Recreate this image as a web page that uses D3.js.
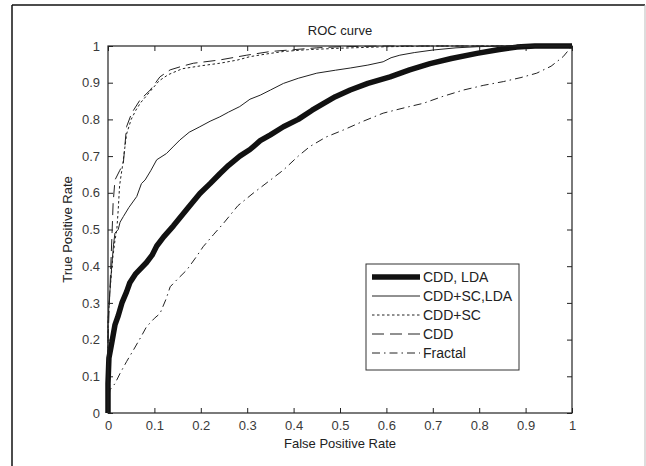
<!DOCTYPE html>
<html>
<head>
<meta charset="utf-8">
<script src="https://cdn.jsdelivr.net/npm/d3@7"></script>
<style>
  html, body { margin: 0; padding: 0; background: #fff; }
  svg { display: block; font-family: "Liberation Sans", Arial, sans-serif; }
</style>
</head>
<body>
<svg id="chart" width="646" height="466"></svg>
<script>
// ---- data ----
const ticks = [0, 0.1, 0.2, 0.3, 0.4, 0.5, 0.6, 0.7, 0.8, 0.9, 1];
const tickLabels = ["0", "0.1", "0.2", "0.3", "0.4", "0.5", "0.6", "0.7", "0.8", "0.9", "1"];
const seriesNames = ["CDD, LDA", "CDD+SC,LDA", "CDD+SC", "CDD", "Fractal"];

const cddLda = [
  [0,0],[0,0.08],[0.002,0.15],[0.008,0.19],[0.015,0.24],[0.022,0.265],[0.03,0.30],[0.04,0.33],
  [0.047,0.355],[0.06,0.38],[0.083,0.41],[0.095,0.43],[0.105,0.455],[0.12,0.48],[0.141,0.51],
  [0.17,0.555],[0.198,0.598],[0.22,0.625],[0.241,0.652],[0.26,0.675],[0.284,0.70],[0.306,0.718],
  [0.328,0.742],[0.35,0.758],[0.378,0.78],[0.41,0.80],[0.44,0.825],[0.464,0.843],[0.49,0.862],
  [0.522,0.88],[0.56,0.898],[0.608,0.916],[0.65,0.935],[0.694,0.952],[0.74,0.966],[0.795,0.98],
  [0.84,0.99],[0.881,0.997],[0.92,1],[1,1]
];
const cddScLda = [
  [0,0],[0,0.25],[0.004,0.33],[0.008,0.40],[0.012,0.46],[0.015,0.49],[0.022,0.50],[0.026,0.52],
  [0.033,0.535],[0.045,0.56],[0.062,0.59],[0.072,0.625],[0.08,0.635],[0.092,0.66],[0.105,0.69],
  [0.126,0.707],[0.14,0.725],[0.155,0.744],[0.175,0.765],[0.198,0.78],[0.22,0.795],[0.241,0.807],
  [0.26,0.82],[0.284,0.835],[0.306,0.855],[0.328,0.866],[0.35,0.88],[0.378,0.898],[0.41,0.912],
  [0.45,0.926],[0.49,0.934],[0.522,0.94],[0.56,0.948],[0.593,0.957],[0.61,0.968],[0.629,0.975],
  [0.66,0.982],[0.70,0.989],[0.75,0.995],[0.795,0.998],[0.85,1],[1,1]
];
const cddSc = [
  [0,0],[0,0.25],[0.004,0.33],[0.01,0.42],[0.015,0.47],[0.019,0.50],[0.022,0.553],[0.025,0.62],
  [0.032,0.68],[0.04,0.76],[0.05,0.80],[0.06,0.825],[0.07,0.845],[0.09,0.875],[0.11,0.905],
  [0.13,0.922],[0.16,0.938],[0.2,0.946],[0.241,0.953],[0.28,0.962],[0.306,0.971],[0.34,0.978],
  [0.378,0.985],[0.43,0.99],[0.5,0.994],[0.6,0.998],[0.7,1],[1,1]
];
const cdd = [
  [0,0],[0,0.2],[0.003,0.30],[0.006,0.40],[0.009,0.50],[0.011,0.571],[0.015,0.635],[0.025,0.66],
  [0.033,0.68],[0.04,0.78],[0.051,0.817],[0.069,0.853],[0.091,0.88],[0.112,0.916],[0.134,0.935],
  [0.16,0.945],[0.184,0.953],[0.241,0.962],[0.299,0.975],[0.35,0.985],[0.4,0.99],[0.45,0.995],
  [0.5,0.998],[0.6,1],[1,1]
];
const fractal = [
  [0,0],[0.002,0.04],[0.004,0.063],[0.015,0.08],[0.026,0.108],[0.04,0.14],[0.055,0.172],
  [0.07,0.205],[0.083,0.235],[0.1,0.258],[0.112,0.271],[0.125,0.31],[0.134,0.344],[0.15,0.365],
  [0.17,0.39],[0.19,0.425],[0.205,0.453],[0.228,0.487],[0.249,0.517],[0.28,0.565],[0.313,0.599],
  [0.345,0.63],[0.378,0.662],[0.41,0.70],[0.435,0.726],[0.47,0.752],[0.507,0.771],[0.55,0.795],
  [0.593,0.817],[0.64,0.832],[0.68,0.844],[0.72,0.862],[0.766,0.88],[0.81,0.893],[0.852,0.903],
  [0.89,0.914],[0.924,0.926],[0.955,0.945],[0.981,0.971],[1,1]
];

// ---- layout ----
const svg = d3.select("#chart");
const L = 108, R = 572, T = 46, B = 413;
const x = d3.scaleLinear().domain([0, 1]).range([L, R]);
const y = d3.scaleLinear().domain([0, 1]).range([B, T]);

// outer frame of the figure
svg.append("line").attr("x1", 12).attr("x2", 645).attr("y1", 5).attr("y2", 5)
  .attr("stroke", "#111").attr("stroke-width", 1.5);
svg.append("line").attr("x1", 12).attr("x2", 12).attr("y1", 5).attr("y2", 466)
  .attr("stroke", "#111").attr("stroke-width", 1.5);
svg.append("line").attr("x1", 645).attr("x2", 645).attr("y1", 5).attr("y2", 466)
  .attr("stroke", "#bbb").attr("stroke-width", 1);

// axes
const fmt = d => tickLabels[ticks.indexOf(d)] ?? d;
const axStyle = g => {
  g.select(".domain").remove();
  g.selectAll(".tick line").attr("stroke", "#222");
  g.selectAll(".tick text").attr("fill", "#3a3a3a").style("font-size", "13px")
    .style("font-family", '"Liberation Sans", Arial, sans-serif');
};
svg.append("g").attr("transform", `translate(0,${B})`)
  .call(d3.axisBottom(x).tickValues(ticks).tickFormat(fmt).tickSizeInner(-5).tickSizeOuter(0).tickPadding(8))
  .call(axStyle);
svg.append("g").attr("transform", `translate(${L},0)`)
  .call(d3.axisLeft(y).tickValues(ticks).tickFormat(fmt).tickSizeInner(-5).tickSizeOuter(0).tickPadding(8))
  .call(axStyle);
svg.append("g").attr("transform", `translate(0,${T})`)
  .call(d3.axisTop(x).tickValues(ticks).tickFormat("").tickSizeInner(-5).tickSizeOuter(0))
  .call(axStyle);
svg.append("g").attr("transform", `translate(${R},0)`)
  .call(d3.axisRight(y).tickValues(ticks).tickFormat("").tickSizeInner(-5).tickSizeOuter(0))
  .call(axStyle);

// curves
const line = d3.line().x(d => x(d[0])).y(d => y(d[1]));
const styles = [
  { data: cddLda,   width: 5.5, dash: null,         color: "#111" },
  { data: cddScLda, width: 1,   dash: null,         color: "#222" },
  { data: cddSc,    width: 1,   dash: "2.5,2.5",    color: "#222" },
  { data: cdd,      width: 1,   dash: "12,6",       color: "#222" },
  { data: fractal,  width: 1,   dash: "8,4,1.5,4",  color: "#222" }
];
styles.slice().reverse().forEach(s => {
  svg.append("path").attr("d", line(s.data)).attr("fill", "none")
    .attr("stroke", s.color).attr("stroke-width", s.width)
    .attr("stroke-dasharray", s.dash).attr("stroke-linejoin", "round");
});

// plot box
svg.append("rect").attr("x", L).attr("y", T).attr("width", R - L).attr("height", B - T)
  .attr("fill", "none").attr("stroke", "#222").attr("stroke-width", 1.2);

// title and axis labels
svg.append("text").attr("x", (L + R) / 2).attr("y", 35).attr("text-anchor", "middle")
  .style("font-size", "13px").attr("fill", "#222").text("ROC curve");
svg.append("text").attr("x", (L + R) / 2).attr("y", 448).attr("text-anchor", "middle")
  .style("font-size", "13px").attr("fill", "#222").text("False Positive Rate");
svg.append("text").attr("transform", `translate(72,${(T + B) / 2}) rotate(-90)`)
  .attr("text-anchor", "middle").style("font-size", "13px").attr("fill", "#222")
  .text("True Positive Rate");

// legend
const lg = svg.append("g");
lg.append("rect").attr("x", 366).attr("y", 264).attr("width", 153).attr("height", 106)
  .attr("fill", "#fff").attr("stroke", "#333").attr("stroke-width", 1);
seriesNames.forEach((name, i) => {
  const yy = 277 + i * 19;
  const s = styles[i];
  lg.append("line").attr("x1", 372).attr("x2", 420).attr("y1", yy).attr("y2", yy)
    .attr("stroke", s.color).attr("stroke-width", s.width).attr("stroke-dasharray", s.dash);
  lg.append("text").attr("x", 423).attr("y", yy + 5).style("font-size", "14px")
    .attr("fill", "#222").text(name);
});
</script>
</body>
</html>
